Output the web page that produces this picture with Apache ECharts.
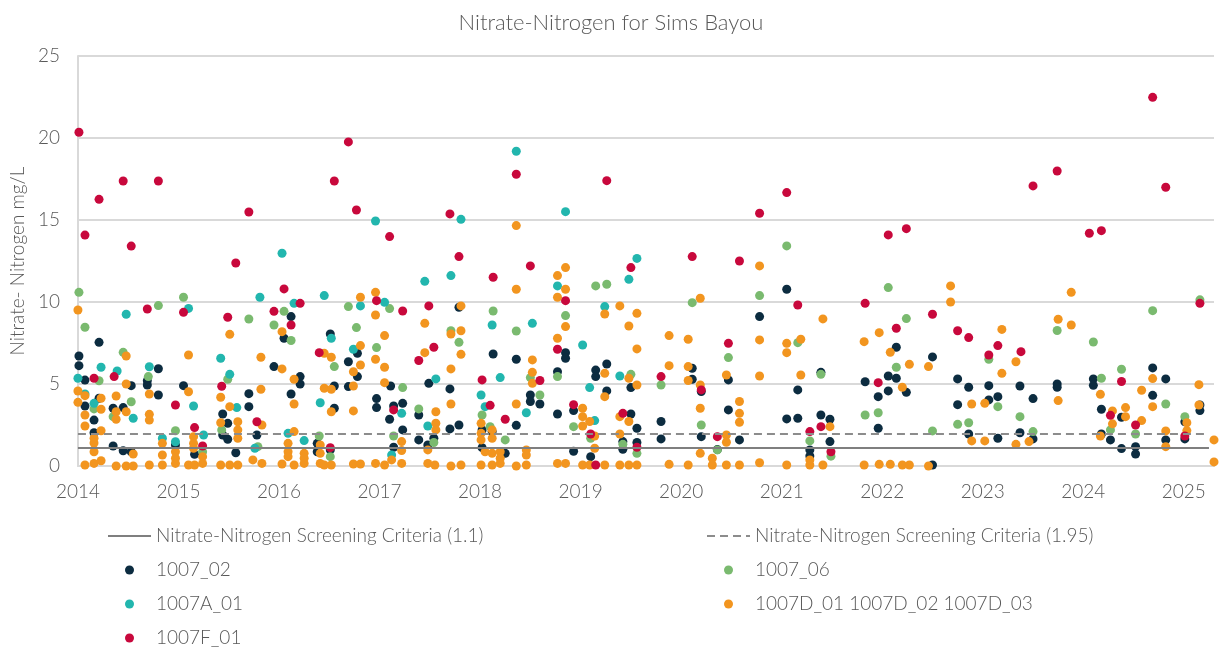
<!DOCTYPE html>
<html>
<head>
<meta charset="utf-8">
<script src="https://cdn.jsdelivr.net/npm/echarts@6/dist/echarts.min.js"></script>
<style>
  html, body { margin: 0; padding: 0; background: #fff; }
  #chart { width: 1222px; height: 650px; }
</style>
</head>
<body>
<div id="chart"></div>
<script>
// x = decimal year, y = mg/L
const criteriaLow = 1.1
const criteriaHigh = 1.95
const xStart = 2014
const xEnd = 2025.3

const site1007_02 = [
  [2014.01,6.71],[2014.01,6.12],[2014.21,7.54],[2014.07,5.24],[2014.80,5.93],[2014.53,4.90],[2014.69,4.94],[2014.69,5.2],[2014.80,4.33],[2015.05,4.90],
  [2014.07,3.66],[2014.16,2.80],[2014.16,2.03],[2014.35,3.52],[2014.45,3.56],[2014.21,4.13],[2014.35,1.22],[2014.45,0.93],[2014.53,0.87],[2015.44,3.17],
  [2015.44,1.89],[2015.49,1.63],[2015.49,2.60],[2015.70,4.41],[2015.70,3.62],[2015.57,0.81],[2015.78,1.89],[2015.16,0.71],[2014.97,1.28],
  [2016.12,9.11],[2016.05,7.79],[2016.51,8.05],[2015.95,6.06],[2016.21,5.45],[2016.21,5.0],[2016.12,4.39],[2016.69,6.36],[2016.78,6.87],[2016.78,5.45],
  [2016.69,4.84],[2016.55,4.88],[2016.55,3.52],[2016.97,4.11],[2016.97,3.56],[2017.10,2.85],[2017.11,4.88],[2017.14,3.66],[2017.23,3.82],[2017.23,2.20],
  [2017.49,5.04],[2017.39,3.11],[2017.39,1.59],[2017.48,1.28],[2017.54,1.69],[2017.70,4.70],[2017.70,2.26],[2016.38,1.38],[2016.38,0.87],[2016.51,0.98],[2017.14,1.14],
  [2017.79,9.68],[2017.79,2.5],[2018.13,6.83],[2018.36,6.51],[2018.36,2.48],[2018.50,4.33],[2018.50,3.93],[2018.595,3.78],[2018.77,5.75],[2018.77,3.17],
  [2018.85,6.91],[2018.85,6.57],[2018.93,3.38],[2019.15,5.85],[2019.15,5.45],[2019.26,6.22],[2019.26,4.58],[2019.50,4.78],[2019.50,3.17],[2019.56,2.3],
  [2019.56,1.43],[2019.42,1.49],[2019.42,1.02],[2018.93,0.9],[2019.10,0.57],[2018.25,0.77],[2018.02,2.2],[2018.02,1.12],[2018.12,2.1],
  [2020.78,9.11],[2021.05,10.78],[2020.11,5.96],[2020.11,5.29],[2020.20,4.54],[2020.47,5.25],[2020.47,3.42],[2019.80,2.71],[2019.80,1.65],[2020.20,1.79],
  [2020.36,1.0],[2020.58,1.59],[2021.05,2.87],[2021.16,2.91],[2021.16,4.64],[2021.39,5.71],[2021.39,3.11],[2021.28,0.98],[2021.28,0.61],[2021.48,2.85],[2021.48,1.49],
  [2021.83,5.14],[2021.96,4.23],[2021.96,2.3],[2022.06,5.49],[2022.06,4.58],[2022.14,7.24],[2022.14,5.35],[2022.24,4.49],[2022.50,6.65],[2022.50,0.06],
  [2022.75,5.31],[2022.75,3.74],[2022.86,4.8],[2022.86,1.95],[2023.06,4.9],[2023.06,4.03],[2023.15,4.23],[2023.15,1.69],[2023.37,4.88],[2023.37,2.03],
  [2023.50,4.11],[2023.50,1.65],[2023.74,5.0],[2023.74,4.8],[2024.10,5.31],[2024.10,4.92],[2024.18,3.46],[2024.18,1.95],[2024.27,1.59],[2024.38,2.97],
  [2024.38,1.06],[2024.52,1.18],[2024.52,0.73],[2024.69,5.98],[2024.69,4.31],[2024.82,5.31],[2024.82,1.59],[2025.01,2.7],[2025.01,1.65],[2025.16,3.72],
  [2025.16,3.38],[2025.31,3.62],[2025.31,3.05]
]

const site1007_06 = [
  [2014.01,10.59],[2014.07,8.46],[2014.45,6.93],[2014.80,9.78],[2015.05,10.29],[2015.70,8.96],[2014.21,5.20],[2014.70,5.45],[2014.53,3.92],[2014.16,3.48],
  [2014.35,3.01],[2014.97,2.15],[2015.43,2.20],[2015.24,0.87],[2015.49,5.29],[2015.79,1.18],
  [2016.05,9.43],[2015.95,8.6],[2016.12,7.65],[2016.69,9.72],[2016.77,8.44],[2017.10,9.6],[2016.97,7.22],[2016.55,6.06],[2017.23,4.78],[2017.39,3.48],
  [2016.40,1.83],[2016.51,0.57],[2017.14,1.83],[2017.54,1.43],
  [2017.71,8.25],[2017.79,7.54],[2018.13,9.45],[2018.36,8.23],[2018.85,9.17],[2019.15,10.98],[2019.26,11.08],[2018.50,5.39],[2018.595,4.33],[2018.77,5.45],
  [2018.02,3.11],[2018.10,2.4],[2018.25,1.59],[2018.93,2.4],[2019.10,1.69],[2019.50,5.59],[2019.42,1.32],[2019.56,0.77],
  [2020.11,9.96],[2020.78,10.39],[2021.05,13.42],[2021.16,7.52],[2020.47,6.61],[2019.80,4.94],[2021.39,5.59],[2020.20,2.5],[2020.36,0.98],[2021.28,1.53],
  [2022.06,10.88],[2022.24,8.99],[2022.14,6.02],[2021.83,3.11],[2021.96,3.25],[2022.50,2.14],[2022.75,2.54],[2022.86,2.64],[2023.06,6.51],[2023.15,3.62],
  [2023.37,3.01],[2021.49,0.6],
  [2024.69,9.47],[2025.16,10.13],[2025.31,8.99],[2023.74,8.26],[2024.10,7.56],[2024.38,5.9],[2024.18,5.35],[2023.50,2.1],[2024.27,2.2],[2024.52,1.95],
  [2024.82,3.78],[2025.01,3.01]
]

const site1007A_01 = [
  [2014.0,5.35],[2014.48,9.25],[2014.23,6.02],[2014.39,5.79],[2014.71,6.05],[2015.10,9.61],[2014.07,4.39],[2014.16,3.82],[2014.55,2.91],[2015.15,3.66],
  [2015.42,6.57],[2015.51,5.59],[2015.58,3.56],[2015.81,10.29],[2014.84,1.69],[2014.97,1.48],[2015.25,1.89],[2015.76,1.08],
  [2016.03,12.97],[2016.15,9.92],[2016.45,10.39],[2016.81,9.76],[2016.96,14.94],[2017.05,9.98],[2017.45,11.26],[2017.71,11.61],[2016.52,7.79],[2016.74,7.12],
  [2017.56,5.31],[2016.41,3.86],[2017.22,3.21],[2017.48,2.44],[2016.09,1.99],[2016.25,1.55],[2017.12,0.67],
  [2018.36,19.19],[2017.81,15.04],[2018.85,15.51],[2018.12,8.6],[2018.52,8.7],[2018.77,10.98],[2019.02,7.38],[2019.24,9.72],[2019.48,11.38],[2019.56,12.66],
  [2018.20,5.39],[2018.01,4.33],[2018.05,3.62],[2018.46,3.25],[2019.09,4.78],[2019.14,2.77],[2019.39,5.49]
]

const site1007D = [
  [2014.0,9.51],[2014.0,4.57],[2014.0,3.88],[2014.07,4.29],[2014.07,3.11],[2014.07,2.44],[2014.16,1.69],[2014.16,1.4],[2014.16,0.87],[2014.07,0.06],
  [2014.16,0.16],[2014.23,0.32],[2014.23,4.13],[2014.23,3.46],[2014.23,2.15],[2014.38,4.27],[2014.38,3.31],[2014.38,2.85],[2014.48,6.71],[2014.48,5.0],
  [2014.48,3.31],[2014.38,0.0],[2014.48,0.0],[2014.55,0.73],[2014.55,0.0],[2014.71,3.15],[2014.71,2.8],[2014.71,4.39],[2014.71,0.06],[2014.84,1.38],
  [2014.84,0.67],[2014.84,0.06],[2014.97,0.87],[2014.97,0.47],[2014.97,0.16],[2015.10,6.77],[2015.10,4.53],[2015.15,1.79],[2015.15,1.38],[2015.15,1.08],
  [2015.10,0.06],[2015.16,0.06],[2015.24,0.57],[2015.24,0.16],[2015.42,4.19],[2015.42,2.64],[2015.51,8.03],[2015.51,3.62],[2015.59,2.70],[2015.59,2.2],
  [2015.59,1.69],[2015.42,0.06],[2015.51,0.06],[2015.59,0.06],[2015.74,0.37],[2015.82,6.63],[2015.82,4.68],
  [2016.03,8.19],[2016.03,5.92],[2016.15,5.29],[2016.15,3.78],[2016.15,2.10],[2016.09,1.38],[2016.09,0.87],[2016.09,0.57],[2016.03,0.12],[2016.15,0.06],
  [2016.25,0.77],[2016.25,0.47],[2016.25,0.16],[2016.41,1.28],[2016.41,0.77],[2016.41,0.16],[2016.45,4.74],[2016.52,6.63],[2016.52,4.68],[2016.52,3.31],
  [2016.45,6.87],[2016.45,0.06],[2016.52,0.06],[2016.81,10.29],[2016.81,7.34],[2016.81,6.16],[2016.74,5.75],[2016.74,4.88],[2016.74,3.36],[2016.74,0.12],
  [2016.81,0.12],[2016.96,10.59],[2016.96,9.21],[2017.05,7.95],[2016.96,6.51],[2017.05,6.02],[2017.05,5.08],[2016.96,0.16],[2017.05,0.06],[2017.22,1.49],
  [2017.22,0.94],[2017.22,0.16],[2017.12,0.37],[2017.45,8.7],[2017.45,6.91],[2017.71,8.05],[2017.71,5.92],[2017.71,3.78],[2017.56,3.31],[2017.56,2.61],
  [2017.56,2.2],[2017.48,0.98],[2017.48,0.16],[2017.55,0.06],[2015.83,2.5],[2015.83,0.16],
  [2017.81,9.76],[2017.81,8.25],[2017.81,6.81],[2017.71,0.0],[2017.81,0.06],[2018.01,2.6],[2018.01,1.99],[2018.01,1.59],[2018.01,0.06],[2018.05,0.87],
  [2018.12,2.2],[2018.12,1.69],[2018.12,0.77],[2018.12,0.06],[2018.20,0.87],[2018.20,0.47],[2018.20,0.16],[2018.36,14.66],[2018.36,10.78],[2018.36,3.78],
  [2018.36,0.0],[2018.46,0.98],[2018.46,0.67],[2018.46,0.06],[2018.52,6.47],[2018.52,5.71],[2018.52,5.04],[2018.77,11.61],[2018.85,12.1],[2018.85,10.78],
  [2018.77,10.29],[2018.85,8.5],[2018.77,7.79],[2018.77,0.16],[2018.85,0.16],[2019.02,3.52],[2019.02,3.01],[2019.09,2.71],[2019.02,2.44],[2019.14,1.83],
  [2019.14,1.08],[2019.02,0.06],[2019.09,0.06],[2019.24,0.06],[2019.24,9.27],[2019.24,5.65],[2019.24,4.23],[2019.39,9.76],[2019.48,8.54],[2019.56,9.31],
  [2019.56,7.14],[2019.48,5.35],[2019.56,4.94],[2019.39,3.01],[2019.48,2.71],[2019.39,1.95],[2019.39,0.06],[2019.48,0.06],[2019.56,0.06],
  [2019.88,7.95],[2019.88,6.12],[2020.07,7.73],[2020.07,6.06],[2020.07,5.21],[2020.19,10.23],[2020.19,4.94],[2020.19,3.52],[2020.19,0.77],[2020.31,0.47],
  [2020.31,0.06],[2020.45,5.55],[2020.45,1.89],[2020.45,1.45],[2020.45,0.06],[2020.58,3.93],[2020.58,3.21],[2020.58,2.67],[2020.58,0.06],[2020.78,12.2],
  [2020.78,7.69],[2020.78,5.49],[2020.78,0.2],[2021.05,7.48],[2021.05,6.91],[2021.05,0.06],[2021.19,7.73],[2021.19,5.55],[2021.28,0.37],[2021.28,0.06],
  [2021.41,8.97],[2021.41,0.06],[2021.48,2.4],[2019.88,0.1],[2020.07,0.06],
  [2021.82,7.58],[2021.97,8.13],[2022.08,6.93],[2022.20,4.8],[2022.27,6.2],[2022.46,6.06],[2022.68,10.98],[2022.68,10.0],[2023.19,8.33],[2023.19,5.65],
  [2023.33,6.36],[2022.89,3.78],[2023.02,3.82],[2022.89,1.53],[2023.02,1.53],[2023.33,1.32],[2021.82,0.06],[2021.97,0.1],[2022.08,0.1],[2022.20,0.06],
  [2022.27,0.06],[2022.46,0.0],
  [2023.46,1.49],[2023.88,10.59],[2023.75,8.95],[2023.88,8.6],[2023.75,3.99],[2024.17,4.37],[2024.17,1.83],[2024.29,3.36],[2024.29,2.57],[2024.42,3.56],
  [2024.42,3.01],[2024.58,4.62],[2024.58,2.77],[2024.69,5.33],[2024.69,3.62],[2024.82,2.14],[2024.82,1.18],[2025.03,2.64],[2025.03,2.16],[2025.15,4.96],
  [2025.15,3.72],[2025.30,1.59],[2025.30,0.25]
]

const site1007F_01 = [
  [2014.01,20.35],[2014.07,14.08],[2014.21,16.26],[2014.45,17.38],[2014.53,13.41],[2014.80,17.38],[2014.69,9.57],[2015.05,9.37],[2014.16,5.35],[2014.36,5.45],
  [2014.97,3.72],[2015.57,12.38],[2015.70,15.49],[2015.49,9.07],[2015.43,4.86],[2015.16,2.34],[2015.24,1.22],[2015.78,2.70],
  [2016.69,19.76],[2016.55,17.38],[2016.77,15.61],[2017.10,13.99],[2017.70,15.37],[2016.05,10.8],[2016.21,9.92],[2015.95,9.43],[2016.12,8.6],[2016.97,10.08],
  [2017.23,9.45],[2017.49,9.76],[2017.54,7.24],[2017.39,6.43],[2016.40,6.91],[2017.14,3.42],[2016.51,1.12],
  [2018.36,17.79],[2019.26,17.4],[2017.79,12.77],[2018.50,12.2],[2018.13,11.51],[2018.85,10.08],[2019.50,12.1],[2018.77,7.12],[2018.02,5.25],[2018.595,5.21],
  [2018.10,3.7],[2018.25,2.85],[2018.93,3.74],[2019.10,1.95],[2019.15,0.06],[2019.42,3.21],[2019.56,1.14],
  [2020.78,15.41],[2021.05,16.67],[2020.11,12.77],[2020.58,12.5],[2021.16,9.82],[2020.47,7.48],[2019.80,5.45],[2020.20,4.64],[2020.36,1.79],[2021.28,2.1],
  [2021.39,2.4],[2021.49,0.87],
  [2022.06,14.09],[2022.24,14.47],[2021.83,9.92],[2022.50,9.25],[2022.14,8.4],[2021.96,5.08],[2022.75,8.25],[2022.86,7.83],[2023.15,7.34],[2023.06,6.77],
  [2023.38,6.97],
  [2024.69,22.48],[2023.74,17.99],[2023.50,17.08],[2024.82,17.0],[2025.31,15.06],[2024.06,14.19],[2024.18,14.35],[2025.16,9.92],[2024.38,5.15],[2024.27,3.09],
  [2024.52,2.50],[2025.01,1.83]
]

const textColor = '#595959'
const fontFamily = 'Lato, "Noto Sans", sans-serif'

const chart = echarts.init(document.getElementById('chart'))

const scatter = (name, data, color) => ({
  name: name,
  type: 'scatter',
  data: data,
  symbol: 'circle',
  symbolSize: 9,
  itemStyle: { color: color, opacity: 1 }
})

// legend items for the criteria lines: line only, no marker in the middle
const lineItem = name => ({ name: name, itemStyle: { opacity: 0 } })

const legendBase = {
  orient: 'vertical',
  top: 526,
  height: 140,
  padding: 0,
  itemWidth: 43,
  itemHeight: 9,
  itemGap: 14,
  textStyle: { fontSize: 19, fontWeight: 300, color: textColor, lineHeight: 20 }
}

chart.setOption({
  animation: false,
  backgroundColor: '#fff',
  textStyle: { fontFamily: fontFamily },
  title: {
    text: 'Nitrate-Nitrogen for Sims Bayou',
    left: 'center',
    top: 7,
    textStyle: { fontSize: 22, fontWeight: 300, color: textColor, fontFamily: fontFamily }
  },
  grid: { left: 76, right: 8, top: 56, bottom: 184 },
  xAxis: {
    type: 'value',
    min: xStart,
    max: xEnd,
    interval: 1,
    axisLine: { show: true, lineStyle: { color: '#d9d9d9', width: 2 } },
    axisTick: { show: false },
    splitLine: { show: false },
    axisLabel: {
      margin: 16,
      fontSize: 19,
      fontWeight: 300,
      color: textColor,
      formatter: v => (Math.abs(v - Math.round(v)) < 1e-6 ? String(Math.round(v)) : '')
    }
  },
  yAxis: {
    type: 'value',
    min: 0,
    max: 25,
    interval: 5,
    name: 'Nitrate- Nitrogen mg/L',
    nameLocation: 'middle',
    nameGap: 48,
    nameTextStyle: { fontSize: 19, fontWeight: 300, color: textColor },
    axisLine: { show: true, lineStyle: { color: '#d9d9d9', width: 2 } },
    axisTick: { show: false },
    splitLine: { lineStyle: { color: '#d9d9d9', width: 2 } },
    axisLabel: { margin: 18, fontSize: 19, fontWeight: 300, color: textColor }
  },
  legend: [
    Object.assign({}, legendBase, {
      left: 107,
      data: [lineItem('Nitrate-Nitrogen Screening Criteria (1.1)'), '1007_02', '1007A_01', '1007F_01']
    }),
    Object.assign({}, legendBase, {
      left: 706,
      data: [lineItem('Nitrate-Nitrogen Screening Criteria (1.95)'), '1007_06', '1007D_01 1007D_02 1007D_03']
    })
  ],
  series: [
    {
      name: 'Nitrate-Nitrogen Screening Criteria (1.1)',
      type: 'line',
      data: [[xStart, criteriaLow], [2025.25, criteriaLow]],
      showSymbol: false,
      symbol: 'none',
      lineStyle: { color: '#7f7f7f', width: 2 },
      itemStyle: { color: '#7f7f7f' }
    },
    {
      name: 'Nitrate-Nitrogen Screening Criteria (1.95)',
      type: 'line',
      data: [[xStart, criteriaHigh], [2025.2, criteriaHigh]],
      showSymbol: false,
      symbol: 'none',
      lineStyle: { color: '#8c8c8c', width: 2, type: [8, 5] },
      itemStyle: { color: '#8c8c8c' }
    },
    scatter('1007_02', site1007_02, '#0c2c40'),
    scatter('1007_06', site1007_06, '#7aba6f'),
    scatter('1007A_01', site1007A_01, '#22b6ae'),
    scatter('1007D_01 1007D_02 1007D_03', site1007D, '#f2951f'),
    scatter('1007F_01', site1007F_01, '#c8083c')
  ]
})
</script>
</body>
</html>
